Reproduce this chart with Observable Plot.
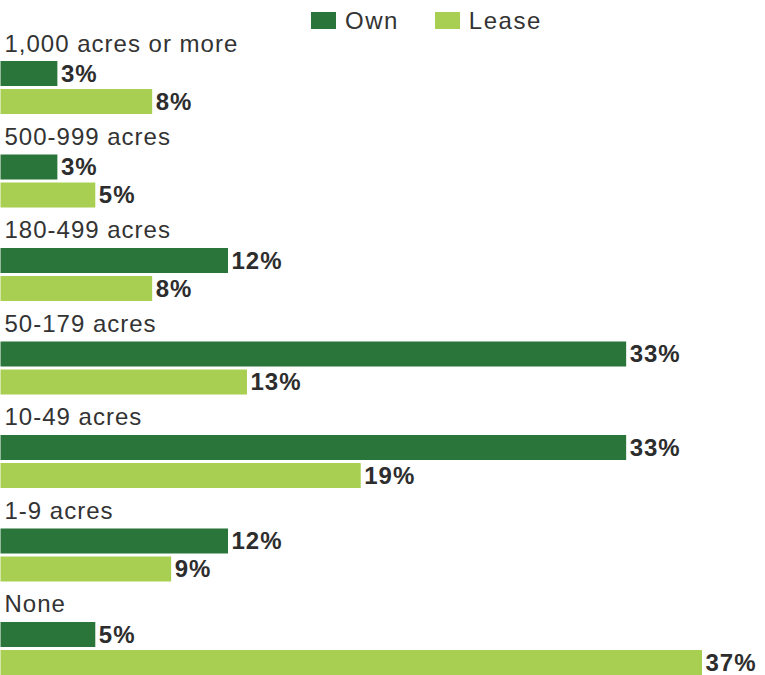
<!DOCTYPE html>
<html><head><meta charset="utf-8">
<script src="https://cdn.jsdelivr.net/npm/d3@7"></script>
<script src="https://cdn.jsdelivr.net/npm/@observablehq/plot@0.6"></script>
<style>
body{margin:0;background:#fff}
#wrap{position:relative;width:765px;height:675px}
#legend{position:absolute;left:311px;top:4px;margin:0}
.lg-swatch{margin-right:36px !important}
.lg-swatch > svg{margin-right:9px !important}
</style></head><body><div id="wrap"></div>
<script>
const categories = ["1,000 acres or more","500-999 acres","180-499 acres","50-179 acres","10-49 acres","1-9 acres","None"];
const series = ["Own","Lease"];
const ownValues = [3,3,12,33,33,12,5];
const leaseValues = [8,5,8,13,19,9,37];
const colors = ["#2a763a","#a9cf52"];

const rows = categories.flatMap((c,i)=>[
  {category:c, series:"Own", value:ownValues[i]},
  {category:c, series:"Lease", value:leaseValues[i]}
]);

const font = "'Liberation Sans', Arial, Helvetica, sans-serif";

const chart = Plot.plot({
  width:765, height:675, marginTop:61, marginBottom:0, marginLeft:0, marginRight:0,
  style:{fontFamily:font, background:"white", letterSpacing:"1px", overflow:"visible"},
  facet:{data:rows, y:"category", marginTop:0, marginBottom:0, marginLeft:0, marginRight:0, label:null},
  fy:{domain:categories, paddingInner:0.433, paddingOuter:0, axis:null, round:false},
  y:{domain:series, paddingInner:0.107, paddingOuter:0, axis:null, round:false},
  x:{domain:[0,37], range:[0.5,702], axis:null},
  color:{domain:series, range:colors},
  marks:[
    Plot.barX(rows,{x:"value", y:"series", fill:"series"}),
    Plot.text(rows,{x:"value", y:"series", text:d=>d.value+"%", textAnchor:"start", dx:3, fontSize:24, fontWeight:"bold", fill:"#2d2d2d"}),
    Plot.text(rows,{filter:d=>d.series==="Own", text:"category", frameAnchor:"top-left", textAnchor:"start", lineAnchor:"bottom", dx:4, dy:-10, fontSize:24, fill:"#333"})
  ]
});

const legend = Plot.legend({
  color:{type:"categorical", domain:series, range:colors},
  legend:"swatches", swatchWidth:25, swatchHeight:17, className:"lg",
  style:{fontSize:"24px", fontFamily:font, color:"#333", letterSpacing:"1.5px"}
});
legend.id = "legend";

const wrap = document.getElementById("wrap");
wrap.appendChild(chart);
wrap.appendChild(legend);
</script></body></html>
